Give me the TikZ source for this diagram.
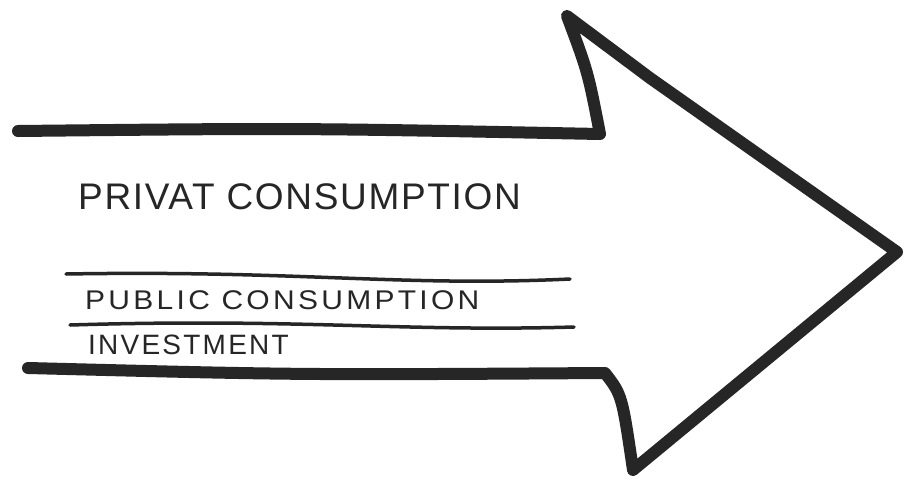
\documentclass[tikz,border=0pt]{standalone}
\usepackage{fontspec}
\setmainfont{Liberation Sans}
\begin{document}
\begin{tikzpicture}[x=1pt,y=-1pt,
  outline/.style={line width=12pt, line join=round, line cap=round, draw=black!85},
  divider/.style={line width=3.5pt, line cap=round, draw=black!85},
  lbl/.style={anchor=west, inner sep=0pt, text=black!85}]
\fill[white] (0,0) rectangle (905,480);
\useasboundingbox (0,0) rectangle (905,480);
\coordinate (tl) at (18,131);
\coordinate (tc) at (600,134);
\coordinate (tt) at (567,16);
\coordinate (tip) at (897,252);
\coordinate (bt) at (633,470);
\coordinate (bc) at (605,373);
\coordinate (bl) at (28,368);
\draw[outline] (tl) .. controls (300,128) .. (tc) .. controls (588,72) .. (tt) -- (650,78) -- (tip) -- (bt) .. controls (622,395) .. (bc) .. controls (300,375) .. (bl);
\coordinate (d1a) at (66,274);
\coordinate (d1b) at (570,279);
\coordinate (d2a) at (70,325);
\coordinate (d2b) at (574,327);
\draw[divider] (d1a) .. controls (300,270) and (400,287) .. (d1b);
\draw[divider] (d2a) .. controls (300,318) and (400,332) .. (d2b);
\node[lbl, font=\fontsize{37}{40}\selectfont\addfontfeature{LetterSpace=4.5}] (priv) at (78,197) {PRIVAT CONSUMPTION};
\node[lbl, xscale=1.11, font=\fontsize{27}{30}\selectfont\addfontfeature{LetterSpace=11}] (pub) at (85,300) {PUBLIC CONSUMPTION};
\node[lbl, font=\fontsize{28}{30}\selectfont\addfontfeature{LetterSpace=8}] (inv) at (88,345) {INVESTMENT};
\end{tikzpicture}
\end{document}
